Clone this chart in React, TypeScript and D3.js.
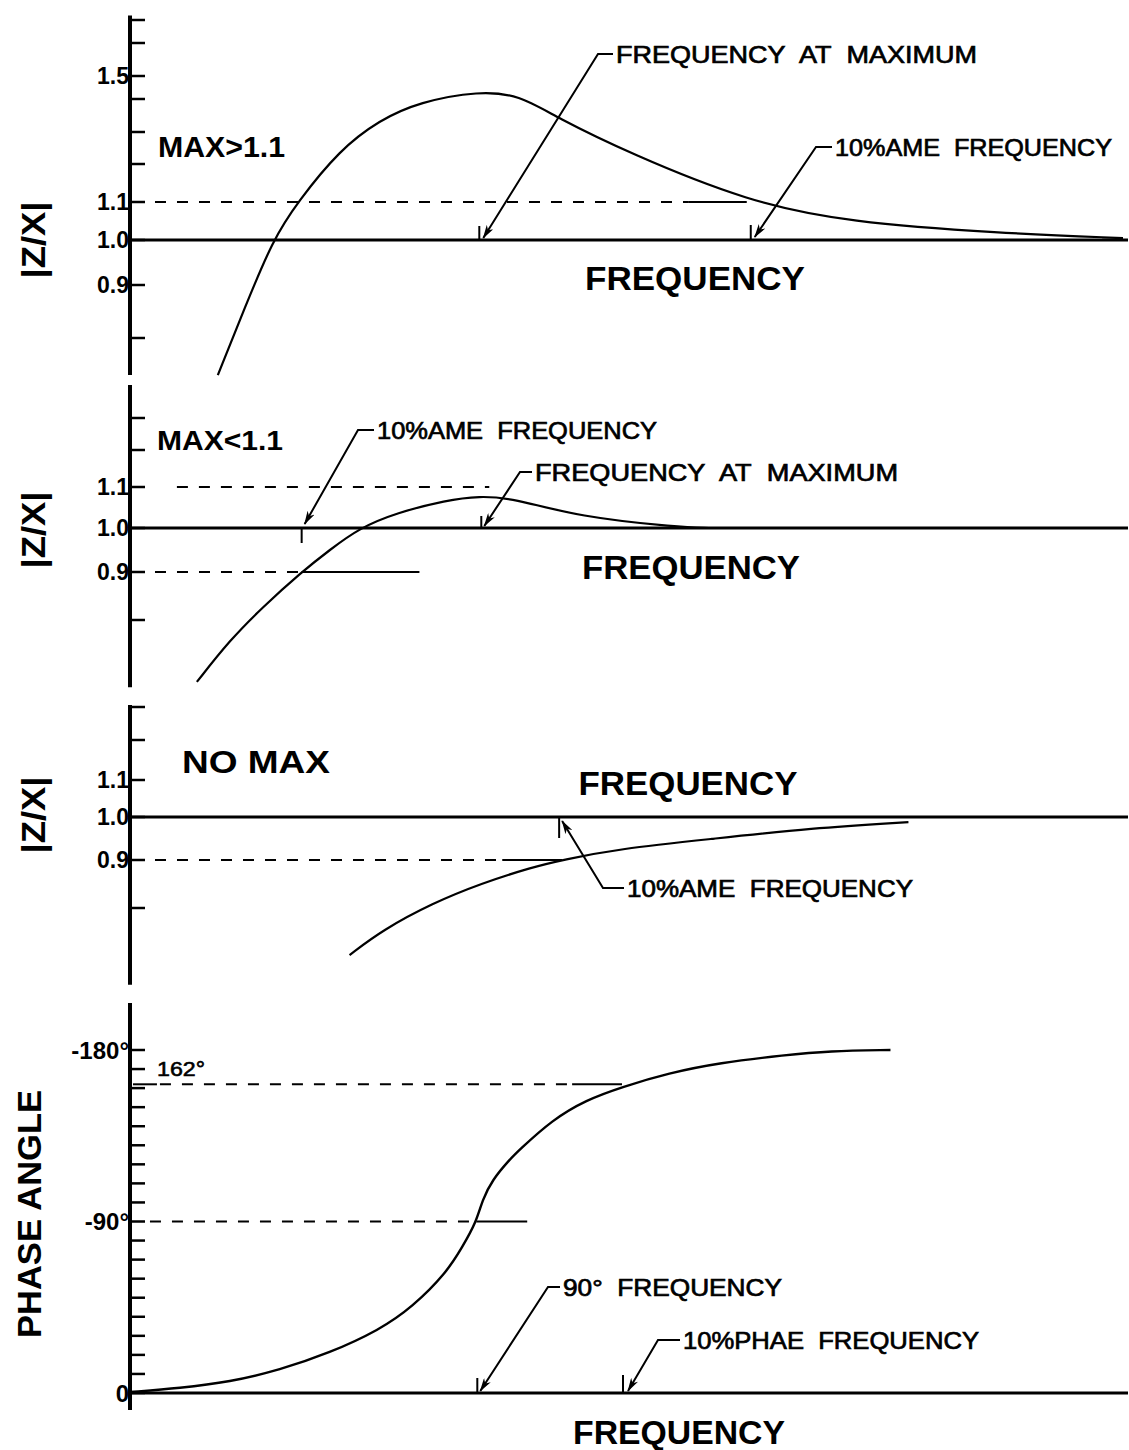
import React from "react";
import * as d3 from "d3";

const W = 1129;
const H = 1450;

// Frequency runs in arbitrary units; the drawing carries no numeric frequency ticks.
const freqDomain: [number, number] = [0, 100];

// ---- Panel A : amplitude ratio with MAX > 1.1 ----
const ampTicksA = [0.8, 0.9, 1.0, 1.1, 1.2, 1.3, 1.4, 1.5, 1.6, 1.7];
const ampLabelsA = [1.5, 1.1, 1.0, 0.9];
const curveA: [number, number][] = [
  [8.8, 0.73], [11.5, 0.857], [14.3, 1.0], [16.8, 1.1], [21, 1.244], [25, 1.336],
  [29, 1.391], [35, 1.435], [39, 1.417], [42.7, 1.345], [50, 1.234], [62, 1.1],
  [72, 1.047], [87, 1.018], [99.5, 1.005],
];
const freqAtMaxA = 35;
const tenPctA = 62.2;

// ---- Panel B : amplitude ratio with MAX < 1.1 ----
const ampTicksB = [0.8, 0.9, 1.0, 1.1, 1.2, 1.3];
const ampLabelsB = [1.1, 1.0, 0.9];
const curveB: [number, number][] = [
  [6.7, 0.671], [10, 0.758], [13.3, 0.827], [17.2, 0.9], [20, 0.95], [23, 1.0],
  [26.7, 1.037], [31.7, 1.068], [35, 1.078], [38.3, 1.073], [45, 1.027],
  [55, 1.002], [58, 1.0],
];
const freqAtMaxB = 35.2;
const tenPctB = 17.2;

// ---- Panel C : amplitude ratio with no maximum ----
const ampTicksC = [0.8, 0.9, 1.0, 1.1, 1.2, 1.3];
const ampLabelsC = [1.1, 1.0, 0.9];
const curveC: [number, number][] = [
  [22, 0.702], [25.3, 0.754], [30.3, 0.81], [35.3, 0.852], [40.3, 0.885],
  [43.3, 0.9], [49, 0.926], [58.3, 0.949], [68.3, 0.974], [78, 0.988],
];
const tenPctC = 43;

// ---- Panel D : phase angle ----
const phaseTicks = d3.range(0, -181, -10);
const phaseLabels = [-180, -90, 0];
const curveD: [number, number][] = [
  [0, -0.5], [5, -2.6], [10, -5.8], [15, -12.1], [20, -21], [25, -33.1],
  [28.3, -45.1], [31.7, -63], [33.3, -76.6], [34.7, -89.7], [35.3, -101.3],
  [36.3, -111.8], [38, -122.3], [39, -127.5], [42.3, -143.3], [45.7, -153.8],
  [49.3, -160.6], [54, -167.9], [59, -173.2], [65.7, -177.4], [70, -179.5], [76.2, -180],
];
const ninetyFreq = 34.8;
const tenPhaseFreq = 49.4;
const phase162 = -162;

const FONT = "'Liberation Sans', Arial, Helvetica, sans-serif";

const x = d3.scaleLinear().domain(freqDomain).range([130, 1128]);

// Hand-lettered amplitude axes are not evenly spaced, so they are piecewise linear.
const yA = d3
  .scaleLinear()
  .domain([0.7, 0.8, 0.9, 1.0, 1.1, 1.2, 1.3, 1.4, 1.5, 1.6, 1.7])
  .range([391, 338, 285, 240, 202, 164, 132, 99, 76, 43, 20]);
const yB = d3
  .scaleLinear()
  .domain([0.7, 0.8, 0.9, 1.0, 1.1, 1.2, 1.3])
  .range([668, 620, 572, 528, 487, 450, 418]);
const yC = d3
  .scaleLinear()
  .domain([0.7, 0.8, 0.9, 1.0, 1.1, 1.2, 1.3])
  .range([956, 908, 860, 817, 780, 740, 707]);
const yD = d3.scaleLinear().domain([0, -180]).range([1393, 1050]);

const fmt = d3.format(".1f");

function curvePath(data: [number, number][], y: d3.ScaleLinear<number, number>) {
  return (
    d3
      .line<[number, number]>()
      .x((d) => x(d[0]))
      .y((d) => y(d[1]))
      .curve(d3.curveBasis)(data) || ""
  );
}

type AxisProps = {
  y: d3.ScaleLinear<number, number>;
  span: [number, number];
  ticks: number[];
  labels: number[];
  labelText: (v: number) => string;
  labelSize: number;
};

function YAxis({ y, span, ticks, labels, labelText, labelSize }: AxisProps) {
  const x0 = x(0);
  return (
    <g>
      <line x1={x0} x2={x0} y1={y(span[0])} y2={y(span[1])} stroke="#000" strokeWidth={4} />
      {ticks.map((t) => (
        <line key={t} x1={x0} x2={x0 + 15} y1={y(t)} y2={y(t)} stroke="#000" strokeWidth={2.5} />
      ))}
      {labels.map((t) => (
        <text
          key={"l" + t}
          x={x0 - 1}
          y={y(t)}
          textAnchor="end"
          dominantBaseline="central"
          fontFamily={FONT}
          fontWeight="bold"
          fontSize={labelSize}
        >
          {labelText(t)}
        </text>
      ))}
    </g>
  );
}

type Note = {
  text: string;
  tip: [number, number];
  corner: [number, number];
  tx: number;
  len: number;
};

function Annotation({ text, tip, corner, tx, len }: Note) {
  return (
    <g>
      <path
        d={`M${tx - 3},${corner[1]} L${corner[0]},${corner[1]} L${tip[0]},${tip[1]}`}
        fill="none"
        stroke="#000"
        strokeWidth={2}
        markerEnd="url(#arrowhead)"
      />
      <text
        x={tx}
        y={corner[1]}
        dominantBaseline="central"
        fontFamily={FONT}
        fontSize={24}
        stroke="#000"
        strokeWidth={0.7}
        textLength={len}
        lengthAdjust="spacingAndGlyphs"
      >
        {text}
      </text>
    </g>
  );
}

function RefLine({
  y,
  from,
  dashTo,
  solidTo,
}: {
  y: number;
  from: number;
  dashTo: number;
  solidTo: number;
}) {
  return (
    <g>
      <line x1={x(from)} x2={x(dashTo)} y1={y} y2={y} stroke="#000" strokeWidth={2} strokeDasharray="11 11" />
      <line x1={x(dashTo)} x2={x(solidTo)} y1={y} y2={y} stroke="#000" strokeWidth={2} />
    </g>
  );
}

function FreqTick({ f, y, len }: { f: number; y: number; len: number }) {
  return <line x1={x(f)} x2={x(f)} y1={y} y2={y + len} stroke="#000" strokeWidth={2} />;
}

function BigLabel({ text, cx, cy, len, rotate = false }: { text: string; cx: number; cy: number; len: number; rotate?: boolean }) {
  return (
    <text
      x={cx}
      y={cy}
      textAnchor="middle"
      dominantBaseline="central"
      fontFamily={FONT}
      fontWeight="bold"
      fontSize={34}
      textLength={len}
      lengthAdjust="spacingAndGlyphs"
      transform={rotate ? `rotate(-90 ${cx} ${cy})` : undefined}
    >
      {text}
    </text>
  );
}

function CaseLabel({ text, x0, y0, len, size }: { text: string; x0: number; y0: number; len: number; size: number }) {
  return (
    <text
      x={x0}
      y={y0}
      fontFamily={FONT}
      fontWeight="bold"
      fontSize={size}
      textLength={len}
      lengthAdjust="spacingAndGlyphs"
    >
      {text}
    </text>
  );
}

const SP = "\u00A0 ";

export default function App() {
  const xEnd = freqDomain[1];
  return (
    <svg
      width={W}
      height={H}
      viewBox={`0 0 ${W} ${H}`}
      style={{ position: "absolute", left: 0, top: 0, background: "#fff" }}
    >
      <defs>
        <marker
          id="arrowhead"
          viewBox="0 0 14 8"
          refX={13}
          refY={4}
          markerWidth={14}
          markerHeight={8}
          markerUnits="userSpaceOnUse"
          orient="auto"
        >
          <path d="M0,0 L14,4 L0,8 L4,4 Z" fill="#000" />
        </marker>
      </defs>
      <rect width={W} height={H} fill="#fff" />

      {/* ---------- Panel A ---------- */}
      <YAxis y={yA} span={[0.73, 1.72]} ticks={ampTicksA} labels={ampLabelsA} labelText={fmt} labelSize={23} />
      <line x1={x(0)} x2={x(xEnd)} y1={yA(1)} y2={yA(1)} stroke="#000" strokeWidth={3} />
      <RefLine y={yA(1.1)} from={0.3} dashTo={56} solidTo={61.8} />
      <path d={curvePath(curveA, yA)} fill="none" stroke="#000" strokeWidth={2.2} />
      <FreqTick f={freqAtMaxA} y={yA(1)} len={-14} />
      <FreqTick f={tenPctA} y={yA(1)} len={-15} />
      <CaseLabel text="MAX>1.1" x0={158} y0={157} len={127} size={29} />
      <BigLabel text="|Z/X|" cx={33} cy={240} len={77} rotate />
      <BigLabel text="FREQUENCY" cx={695} cy={278} len={220} />
      <Annotation text={`FREQUENCY${SP}AT${SP}MAXIMUM`} tip={[x(freqAtMaxA) + 4, yA(1) - 2]} corner={[598, 54]} tx={616} len={361} />
      <Annotation text={`10%AME${SP}FREQUENCY`} tip={[x(tenPctA) + 4, yA(1) - 3]} corner={[816, 147]} tx={835} len={277} />

      {/* ---------- Panel B ---------- */}
      <YAxis y={yB} span={[0.66, 1.403]} ticks={ampTicksB} labels={ampLabelsB} labelText={fmt} labelSize={23} />
      <line x1={x(0)} x2={x(xEnd)} y1={yB(1)} y2={yB(1)} stroke="#000" strokeWidth={3} />
      <line x1={x(4.7)} x2={x(36)} y1={yB(1.1)} y2={yB(1.1)} stroke="#000" strokeWidth={2} strokeDasharray="11 11" />
      <RefLine y={yB(0.9)} from={0.3} dashTo={17.2} solidTo={29} />
      <path d={curvePath(curveB, yB)} fill="none" stroke="#000" strokeWidth={2.2} />
      <FreqTick f={tenPctB} y={yB(1)} len={15} />
      <FreqTick f={freqAtMaxB} y={yB(1)} len={-12} />
      <CaseLabel text="MAX<1.1" x0={157} y0={450} len={126} size={28} />
      <BigLabel text="|Z/X|" cx={33} cy={530} len={77} rotate />
      <BigLabel text="FREQUENCY" cx={691} cy={567} len={218} />
      <Annotation text={`10%AME${SP}FREQUENCY`} tip={[x(tenPctB) + 3, yB(1) - 4]} corner={[358, 430]} tx={377} len={280} />
      <Annotation text={`FREQUENCY${SP}AT${SP}MAXIMUM`} tip={[x(freqAtMaxB) + 3, yB(1) - 2]} corner={[520, 472]} tx={535} len={363} />

      {/* ---------- Panel C ---------- */}
      <YAxis y={yC} span={[0.64, 1.306]} ticks={ampTicksC} labels={ampLabelsC} labelText={fmt} labelSize={23} />
      <line x1={x(0)} x2={x(xEnd)} y1={yC(1)} y2={yC(1)} stroke="#000" strokeWidth={3} />
      <RefLine y={yC(0.9)} from={0.3} dashTo={37.3} solidTo={43.3} />
      <path d={curvePath(curveC, yC)} fill="none" stroke="#000" strokeWidth={2.2} />
      <FreqTick f={tenPctC} y={yC(1)} len={21} />
      <CaseLabel text="NO MAX" x0={182} y0={773} len={148} size={32} />
      <BigLabel text="|Z/X|" cx={33} cy={815} len={77} rotate />
      <BigLabel text="FREQUENCY" cx={688} cy={783} len={219} />
      <Annotation text={`10%AME${SP}FREQUENCY`} tip={[x(tenPctC) + 3, yC(1) + 4]} corner={[603, 888]} tx={627} len={286} />

      {/* ---------- Panel D ---------- */}
      <YAxis
        y={yD}
        span={[8.9, -204.7]}
        ticks={phaseTicks}
        labels={phaseLabels}
        labelText={(v) => (v === 0 ? "0" : `${v}°`)}
        labelSize={24}
      />
      <line x1={x(0) - 2} x2={x(xEnd)} y1={yD(0)} y2={yD(0)} stroke="#000" strokeWidth={3} />
      <line x1={x(0.3)} x2={x(2.7)} y1={yD(phase162)} y2={yD(phase162)} stroke="#000" strokeWidth={2} />
      <RefLine y={yD(phase162)} from={3} dashTo={44.3} solidTo={49.3} />
      <RefLine y={yD(-90)} from={2} dashTo={34.7} solidTo={39.8} />
      <path d={curvePath(curveD, yD)} fill="none" stroke="#000" strokeWidth={2.4} />
      <text
        x={157}
        y={yD(phase162) - 16}
        dominantBaseline="central"
        fontFamily={FONT}
        fontSize={21}
        stroke="#000"
        strokeWidth={0.6}
        textLength={48}
        lengthAdjust="spacingAndGlyphs"
      >
        {`${-phase162}°`}
      </text>
      <FreqTick f={ninetyFreq} y={yD(0)} len={-15} />
      <FreqTick f={tenPhaseFreq} y={yD(0)} len={-18} />
      <BigLabel text="PHASE ANGLE" cx={29} cy={1214} len={248} rotate />
      <BigLabel text="FREQUENCY" cx={679} cy={1432} len={212} />
      <Annotation text={`90°${SP}FREQUENCY`} tip={[x(ninetyFreq) + 3, yD(0) - 2]} corner={[548, 1287]} tx={563} len={219} />
      <Annotation text={`10%PHAE${SP}FREQUENCY`} tip={[x(tenPhaseFreq) + 5, yD(0) - 2]} corner={[658, 1340]} tx={683} len={296} />
    </svg>
  );
}
